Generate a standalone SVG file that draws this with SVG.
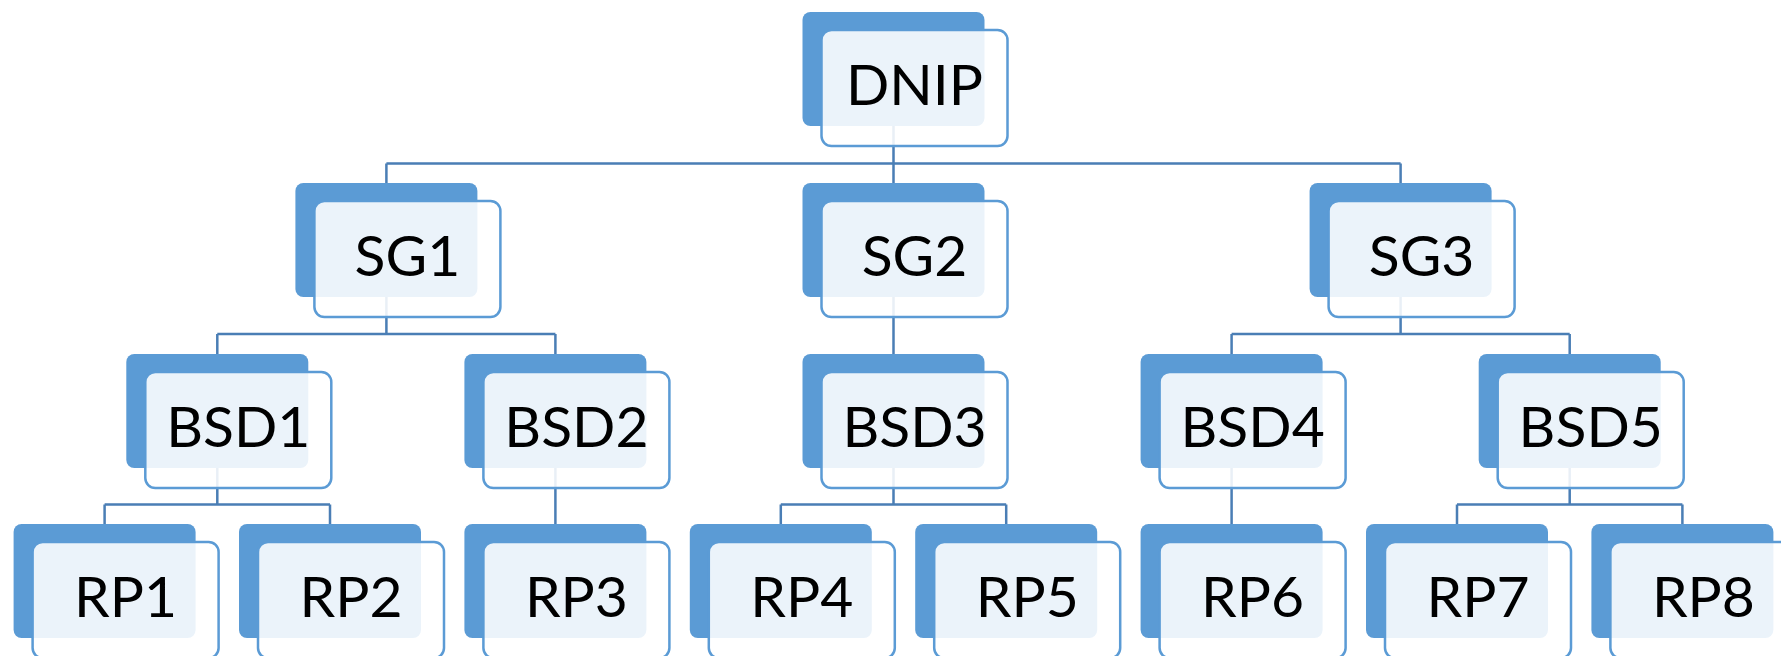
<svg xmlns="http://www.w3.org/2000/svg" width="1781" height="656" viewBox="0 0 1781 656">
  <defs>
    <style>
      .back { fill: #5B9BD5; }
      .front { fill: #FFFFFF; fill-opacity: 0.88; stroke: #5B9BD5; stroke-width: 2.5; }
      .label { font-family: "Lato", "Liberation Sans", sans-serif; font-size: 57px; fill: #000000; text-anchor: middle; }
      .conn { fill: none; stroke: #4A7EB5; stroke-width: 2.5; }
    </style>
  </defs>
  <rect width="1781" height="656" fill="#FFFFFF"/>

  <!-- tree connectors (drawn under the translucent cards) -->
  <g id="connectors" class="conn">
    <!-- DNIP to SG1..SG3 -->
    <path d="M893.5 126 V163.5 M386.4 163.5 H1400.6 M386.4 163.5 V183 M893.5 163.5 V183 M1400.6 163.5 V183"/>
    <!-- SG1 to BSD1, BSD2 -->
    <path d="M386.4 297 V334 M217.3 334 H555.4 M217.3 334 V354 M555.4 334 V354"/>
    <!-- SG2 to BSD3 -->
    <path d="M893.5 297 V354"/>
    <!-- SG3 to BSD4, BSD5 -->
    <path d="M1400.6 297 V334 M1231.6 334 H1569.7 M1231.6 334 V354 M1569.7 334 V354"/>
    <!-- BSD1 to RP1, RP2 -->
    <path d="M217.3 468 V504.5 M104.6 504.5 H330 M104.6 504.5 V524 M330 504.5 V524"/>
    <!-- BSD2 to RP3 -->
    <path d="M555.4 468 V524"/>
    <!-- BSD3 to RP4, RP5 -->
    <path d="M893.5 468 V504.5 M780.8 504.5 H1006.2 M780.8 504.5 V524 M1006.2 504.5 V524"/>
    <!-- BSD4 to RP6 -->
    <path d="M1231.6 468 V524"/>
    <!-- BSD5 to RP7, RP8 -->
    <path d="M1569.7 468 V504.5 M1457 504.5 H1682.4 M1457 504.5 V524 M1682.4 504.5 V524"/>
  </g>

  <!-- each card: solid back plate, offset translucent front plate, label -->
  <g id="node-DNIP" transform="translate(802.5 12)">
    <rect class="back" width="182" height="114" rx="8"/>
    <rect class="front" x="19" y="18" width="186" height="116" rx="10"/>
    <text class="label" x="112" y="93">DNIP</text>
  </g>

  <g id="node-SG1" transform="translate(295.4 183)">
    <rect class="back" width="182" height="114" rx="8"/>
    <rect class="front" x="19" y="18" width="186" height="116" rx="10"/>
    <text class="label" x="112" y="93">SG1</text>
  </g>
  <g id="node-SG2" transform="translate(802.5 183)">
    <rect class="back" width="182" height="114" rx="8"/>
    <rect class="front" x="19" y="18" width="186" height="116" rx="10"/>
    <text class="label" x="112" y="93">SG2</text>
  </g>
  <g id="node-SG3" transform="translate(1309.6 183)">
    <rect class="back" width="182" height="114" rx="8"/>
    <rect class="front" x="19" y="18" width="186" height="116" rx="10"/>
    <text class="label" x="112" y="93">SG3</text>
  </g>

  <g id="node-BSD1" transform="translate(126.3 354)">
    <rect class="back" width="182" height="114" rx="8"/>
    <rect class="front" x="19" y="18" width="186" height="116" rx="10"/>
    <text class="label" x="112" y="93">BSD1</text>
  </g>
  <g id="node-BSD2" transform="translate(464.4 354)">
    <rect class="back" width="182" height="114" rx="8"/>
    <rect class="front" x="19" y="18" width="186" height="116" rx="10"/>
    <text class="label" x="112" y="93">BSD2</text>
  </g>
  <g id="node-BSD3" transform="translate(802.5 354)">
    <rect class="back" width="182" height="114" rx="8"/>
    <rect class="front" x="19" y="18" width="186" height="116" rx="10"/>
    <text class="label" x="112" y="93">BSD3</text>
  </g>
  <g id="node-BSD4" transform="translate(1140.6 354)">
    <rect class="back" width="182" height="114" rx="8"/>
    <rect class="front" x="19" y="18" width="186" height="116" rx="10"/>
    <text class="label" x="112" y="93">BSD4</text>
  </g>
  <g id="node-BSD5" transform="translate(1478.7 354)">
    <rect class="back" width="182" height="114" rx="8"/>
    <rect class="front" x="19" y="18" width="186" height="116" rx="10"/>
    <text class="label" x="112" y="93">BSD5</text>
  </g>

  <g id="node-RP1" transform="translate(13.6 524)">
    <rect class="back" width="182" height="114" rx="8"/>
    <rect class="front" x="19" y="18" width="186" height="116" rx="10"/>
    <text class="label" x="112" y="93">RP1</text>
  </g>
  <g id="node-RP2" transform="translate(239 524)">
    <rect class="back" width="182" height="114" rx="8"/>
    <rect class="front" x="19" y="18" width="186" height="116" rx="10"/>
    <text class="label" x="112" y="93">RP2</text>
  </g>
  <g id="node-RP3" transform="translate(464.4 524)">
    <rect class="back" width="182" height="114" rx="8"/>
    <rect class="front" x="19" y="18" width="186" height="116" rx="10"/>
    <text class="label" x="112" y="93">RP3</text>
  </g>
  <g id="node-RP4" transform="translate(689.8 524)">
    <rect class="back" width="182" height="114" rx="8"/>
    <rect class="front" x="19" y="18" width="186" height="116" rx="10"/>
    <text class="label" x="112" y="93">RP4</text>
  </g>
  <g id="node-RP5" transform="translate(915.2 524)">
    <rect class="back" width="182" height="114" rx="8"/>
    <rect class="front" x="19" y="18" width="186" height="116" rx="10"/>
    <text class="label" x="112" y="93">RP5</text>
  </g>
  <g id="node-RP6" transform="translate(1140.6 524)">
    <rect class="back" width="182" height="114" rx="8"/>
    <rect class="front" x="19" y="18" width="186" height="116" rx="10"/>
    <text class="label" x="112" y="93">RP6</text>
  </g>
  <g id="node-RP7" transform="translate(1366 524)">
    <rect class="back" width="182" height="114" rx="8"/>
    <rect class="front" x="19" y="18" width="186" height="116" rx="10"/>
    <text class="label" x="112" y="93">RP7</text>
  </g>
  <g id="node-RP8" transform="translate(1591.4 524)">
    <rect class="back" width="182" height="114" rx="8"/>
    <rect class="front" x="19" y="18" width="186" height="116" rx="10"/>
    <text class="label" x="112" y="93">RP8</text>
  </g>
</svg>
